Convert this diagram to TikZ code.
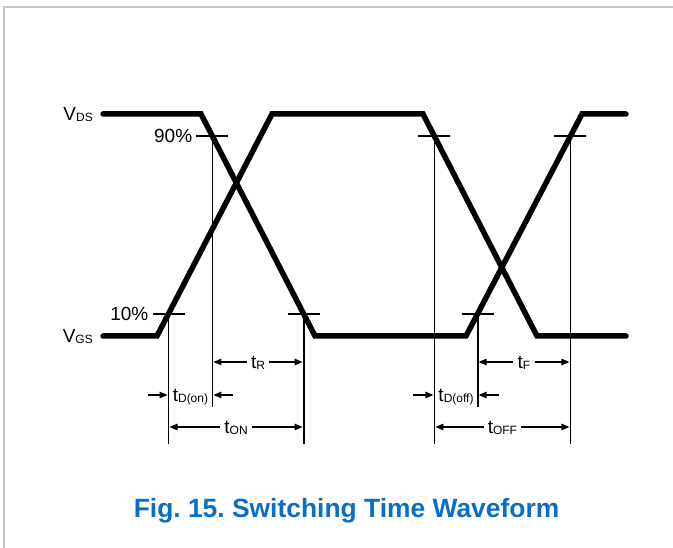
\documentclass[tikz,border=0pt]{standalone}
\usepackage{fontspec}
\setmainfont{Liberation Sans}
\usetikzlibrary{arrows.meta, calc}

\definecolor{figblue}{HTML}{0B6EC5}
\definecolor{framegray}{HTML}{C6C6C6}

\newcommand{\sbs}[1]{\raisebox{-1pt}{\fontsize{12}{12}\selectfont #1}}

\begin{document}
\frenchspacing
\begin{tikzpicture}[
    x=1pt, y=-1pt,
    wave/.style={line width=5.5pt, line cap=round, line join=miter},
    lvl/.style={line width=1.8pt},
    guide/.style={line width=1.8pt},
    dim/.style={line width=1.2pt, -{Triangle[length=8pt,width=6.5pt]}, shorten >=1pt},
    lab/.style={font=\fontsize{19}{21}\selectfont, inner xsep=4pt, inner ysep=0pt, text height=13.5pt, text depth=0pt},
    figcap/.style={font=\fontsize{26.4}{30}\selectfont\bfseries, text=figblue, inner sep=0pt}
]

\useasboundingbox (0,0) rectangle (673,548);
\draw[framegray, line width=2pt] (3,7) -- (673,7);
\draw[framegray, line width=2pt] (4,7) -- (4,548);

\coordinate (gs0) at (103,336);
\coordinate (gs1) at (157,336);
\coordinate (gs2) at (272,114);
\coordinate (gs3) at (423,114);
\coordinate (gs4) at (537,336);
\coordinate (gs5) at (626,336);

\coordinate (ds0) at (103,114);
\coordinate (ds1) at (201,114);
\coordinate (ds2) at (315,336);
\coordinate (ds3) at (466,336);
\coordinate (ds4) at (582,114);
\coordinate (ds5) at (626,114);

\coordinate (on10) at ($(gs1)!0.1!(gs2)$);
\coordinate (on90) at ($(ds1)!0.1!(ds2)$);
\coordinate (r10) at ($(ds1)!0.9!(ds2)$);
\coordinate (off90) at ($(gs3)!0.1!(gs4)$);
\coordinate (off10) at ($(ds3)!0.1!(ds4)$);
\coordinate (f90) at ($(ds3)!0.9!(ds4)$);

\coordinate (rowa) at (0,362);
\coordinate (rowb) at (0,395);
\coordinate (rowc) at (0,427);
\coordinate (mid) at (0,407);
\coordinate (low) at (0,444);

\draw[wave] (gs0) -- (gs1) -- (gs2) -- (gs3) -- (gs4) -- (gs5);
\draw[wave] (ds0) -- (ds1) -- (ds2) -- (ds3) -- (ds4) -- (ds5);

\node[lab, anchor=east] (vds) at ($(ds0)+(-6,0)$) {V\sbs{DS}};
\node[lab, anchor=east] (vgs) at ($(gs0)+(-6,0)$) {V\sbs{GS}};

\foreach \p in {on10, on90, r10, off90, off10, f90}
    \draw[lvl] ($(\p)+(-16,0)$) -- ($(\p)+(16,0)$);

\node[lab, anchor=east] (p90) at ($(on90)+(-16,0)$) {90\%};
\node[lab, anchor=east] (p10) at ($(on10)+(-16,0)$) {10\%};

\draw[guide] (on10) -- (on10 |- low);
\draw[guide] (on90) -- (on90 |- mid);
\draw[guide] (r10) -- (r10 |- low);
\draw[guide] (off90) -- (off90 |- low);
\draw[guide] (off10) -- (off10 |- mid);
\draw[guide] (f90) -- (f90 |- low);

\node[lab] (tr) at ($(on90 |- rowa)!0.5!(r10 |- rowa)$) {t\sbs{R}};
\draw[dim] (tr.west) -- (on90 |- rowa);
\draw[dim] (tr.east) -- (r10 |- rowa);

\node[lab, inner xsep=2pt] (tdon) at ($(on10 |- rowb)!0.5!(on90 |- rowb)$) {t\sbs{D(on)}};
\draw[dim] ($(on10 |- rowb)+(-21,0)$) -- (on10 |- rowb);
\draw[dim] ($(on90 |- rowb)+(21,0)$) -- (on90 |- rowb);

\node[lab] (ton) at ($(on10 |- rowc)!0.5!(r10 |- rowc)$) {t\sbs{ON}};
\draw[dim] (ton.west) -- (on10 |- rowc);
\draw[dim] (ton.east) -- (r10 |- rowc);

\node[lab] (tf) at ($(off10 |- rowa)!0.5!(f90 |- rowa)$) {t\sbs{F}};
\draw[dim] (tf.west) -- (off10 |- rowa);
\draw[dim] (tf.east) -- (f90 |- rowa);

\node[lab, inner xsep=2pt] (tdoff) at ($(off90 |- rowb)!0.5!(off10 |- rowb)$) {t\sbs{D(off)}};
\draw[dim] ($(off90 |- rowb)+(-21,0)$) -- (off90 |- rowb);
\draw[dim] ($(off10 |- rowb)+(21,0)$) -- (off10 |- rowb);

\node[lab] (toff) at ($(off90 |- rowc)!0.5!(f90 |- rowc)$) {t\sbs{OFF}};
\draw[dim] (toff.west) -- (off90 |- rowc);
\draw[dim] (toff.east) -- (f90 |- rowc);

\node[figcap, anchor=base] (cap) at (346.5,517) {Fig. 15. Switching Time Waveform};

\end{tikzpicture}
\end{document}
